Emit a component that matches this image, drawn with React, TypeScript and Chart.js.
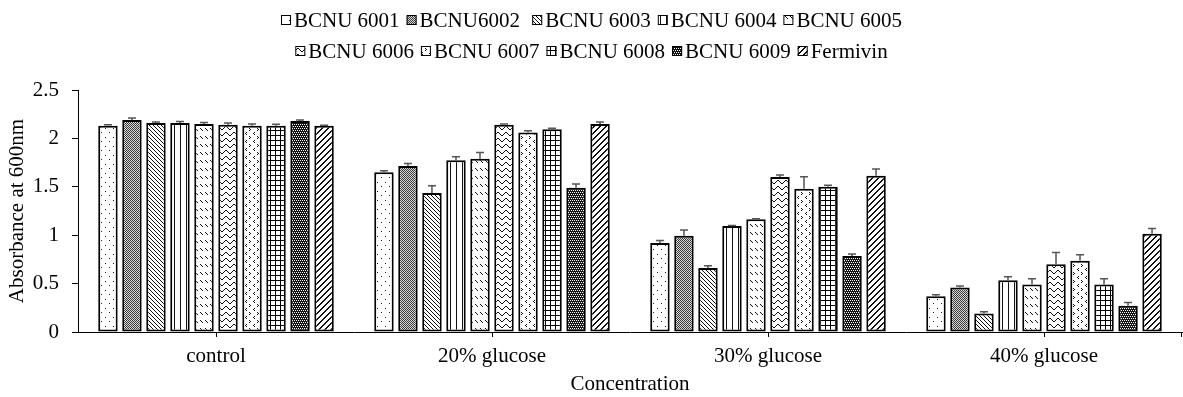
import React, { useEffect, useRef } from 'react';
import { Chart, registerables } from 'chart.js';

Chart.register(...registerables);

// ---------- data ----------
const categories = ['control', '20% glucose', '30% glucose', '40% glucose'];
const seriesNames = [
  'BCNU 6001', 'BCNU6002 ', 'BCNU 6003', 'BCNU 6004', 'BCNU 6005',
  'BCNU 6006', 'BCNU 6007', 'BCNU 6008', 'BCNU 6009', 'Fermivin',
];

const bcnu6001 = [2.13, 1.65, 0.92, 0.37];
const bcnu6002 = [2.19, 1.715, 0.995, 0.46];
const bcnu6003 = [2.16, 1.435, 0.66, 0.19];
const bcnu6004 = [2.16, 1.775, 1.095, 0.535];
const bcnu6005 = [2.15, 1.79, 1.165, 0.49];
const bcnu6006 = [2.14, 2.14, 1.6, 0.7];
const bcnu6007 = [2.13, 2.06, 1.48, 0.735];
const bcnu6008 = [2.13, 2.095, 1.5, 0.49];
const bcnu6009 = [2.18, 1.49, 0.785, 0.27];
const fermivin = [2.13, 2.15, 1.615, 1.015];

const err6001 = [0.01, 0.015, 0.025, 0.015];
const err6002 = [0.02, 0.025, 0.06, 0.015];
const err6003 = [0.01, 0.075, 0.025, 0.02];
const err6004 = [0.015, 0.035, 0.005, 0.035];
const err6005 = [0.015, 0.065, 0.005, 0.06];
const err6006 = [0.02, 0.01, 0.022, 0.12];
const err6007 = [0.02, 0.02, 0.125, 0.062];
const err6008 = [0.015, 0.01, 0.015, 0.06];
const err6009 = [0.01, 0.04, 0.02, 0.035];
const errFermivin = [0.005, 0.02, 0.07, 0.055];

const yMin = 0;
const yMax = 2.5;
const yStep = 0.5;

const seriesValues = [bcnu6001, bcnu6002, bcnu6003, bcnu6004, bcnu6005, bcnu6006, bcnu6007, bcnu6008, bcnu6009, fermivin];
const seriesErrors = [err6001, err6002, err6003, err6004, err6005, err6006, err6007, err6008, err6009, errFermivin];

// ---------- styling ----------
const FONT = "'Liberation Serif', 'Times New Roman', serif";
const FONT_SIZE = 21;

function makeTile(w: number, h: number, bg: string, fg: string, pixels: [number, number][]) {
  const c = document.createElement('canvas');
  c.width = w;
  c.height = h;
  const g = c.getContext('2d')!;
  g.fillStyle = bg;
  g.fillRect(0, 0, w, h);
  g.fillStyle = fg;
  pixels.forEach(([x, y]) => g.fillRect(x, y, 1, 1));
  return c;
}

function buildPatterns(ctx: CanvasRenderingContext2D): CanvasPattern[] {
  const tiles: HTMLCanvasElement[] = [];
  // 1: sparse dots
  tiles.push(makeTile(8, 9, '#fff', '#222', [[1, 2], [5, 6]]));
  // 2: dense fine checker (mid gray)
  tiles.push(makeTile(2, 2, '#d8d8d8', '#3a3a3a', [[0, 0], [1, 1]]));
  // 3: downward diagonal
  tiles.push(makeTile(4, 4, '#fff', '#111', [[0, 0], [1, 1], [2, 2], [3, 3]]));
  // 4: vertical lines
  tiles.push(makeTile(6, 1, '#fff', '#111', [[0, 0]]));
  // 5: dashed downward diagonal
  tiles.push(makeTile(5, 8, '#fff', '#111', [[0, 0], [1, 1], [2, 2]]));
  // 6: wave
  {
    const off = [1, 0, 0, 1, 2, 3, 3, 2];
    const px: [number, number][] = off.map((o, x) => [x, o] as [number, number]);
    tiles.push(makeTile(8, 6, '#fff', '#111', px));
  }
  // 7: divots
  tiles.push(makeTile(8, 8, '#fff', '#111', [[1, 0], [2, 1], [1, 2], [6, 4], [5, 5], [6, 6]]));
  // 8: grid
  {
    const px: [number, number][] = [];
    for (let i = 0; i < 5; i++) { px.push([i, 0]); px.push([0, i]); }
    tiles.push(makeTile(5, 5, '#fff', '#000', px));
  }
  // 9: dark with white dots lattice
  {
    const px: [number, number][] = [];
    const white = new Set(['0,0', '2,0', '1,2', '3,2']);
    for (let x = 0; x < 4; x++) for (let y = 0; y < 4; y++) if (!white.has(`${x},${y}`)) px.push([x, y]);
    tiles.push(makeTile(4, 4, '#fff', '#151515', px));
  }
  // 10: wide upward diagonal
  {
    const px: [number, number][] = [];
    for (let i = 0; i < 6; i++) { px.push([5 - i, i]); px.push([(6 - i) % 6, i]); }
    tiles.push(makeTile(6, 6, '#fff', '#111', px));
  }
  return tiles.map((t) => ctx.createPattern(t, 'repeat')!);
}

export default function App() {
  const canvasRef = useRef<HTMLCanvasElement | null>(null);

  useEffect(() => {
    const canvas = canvasRef.current!;
    const ctx = canvas.getContext('2d')!;
    const patterns = buildPatterns(ctx);

    const errorBarPlugin = {
      id: 'errorBars',
      afterDatasetsDraw(chart: any) {
        const c = chart.ctx;
        const ys = chart.scales.y;
        c.save();
        c.strokeStyle = '#555';
        c.lineWidth = 1.5;
        chart.data.datasets.forEach((ds: any, i: number) => {
          const meta = chart.getDatasetMeta(i);
          meta.data.forEach((bar: any, j: number) => {
            const v = ds.data[j];
            const e = ds.errors[j];
            const yBase = ys.getPixelForValue(v);
            const yTop = ys.getPixelForValue(v + e);
            c.beginPath();
            c.moveTo(bar.x, yBase);
            c.lineTo(bar.x, yTop);
            c.moveTo(bar.x - 4, yTop);
            c.lineTo(bar.x + 4, yTop);
            c.stroke();
          });
        });
        c.restore();
      },
    };

    const legendPlugin = {
      id: 'rowLegend',
      afterDraw(chart: any) {
        const c = chart.ctx;
        c.save();
        c.font = `${FONT_SIZE}px ${FONT}`;
        c.textBaseline = 'alphabetic';
        c.textAlign = 'left';
        const BOX = 10;
        const GAP = 3;
        const SP = 7;
        const rows = [[0, 1, 2, 3, 4], [5, 6, 7, 8, 9]];
        const baselines = [27, 58];
        rows.forEach((row, r) => {
          const widths = row.map((i) => BOX + GAP + c.measureText(seriesNames[i]).width);
          const total = widths.reduce((a, b) => a + b, 0) + SP * (row.length - 1);
          let x = (chart.width - total) / 2;
          const bl = baselines[r];
          row.forEach((i, k) => {
            c.fillStyle = patterns[i];
            c.fillRect(x, bl - 12, BOX, BOX);
            c.strokeStyle = '#000';
            c.lineWidth = 1;
            c.strokeRect(x + 0.5, bl - 11.5, BOX - 1, BOX - 1);
            c.fillStyle = '#000';
            c.fillText(seriesNames[i], x + BOX + GAP, bl);
            x += widths[k] + SP;
          });
        });
        // right-end tick on x axis
        const area = chart.chartArea;
        c.strokeStyle = '#000';
        c.lineWidth = 1;
        c.beginPath();
        c.moveTo(area.right - 0.5, area.bottom);
        c.lineTo(area.right - 0.5, area.bottom + 5);
        c.stroke();
        c.restore();
      },
    };

    const chart = new Chart(canvas, {
      type: 'bar',
      data: {
        labels: categories,
        datasets: seriesNames.map((name, i) => ({
          label: name.trim(),
          data: seriesValues[i],
          errors: seriesErrors[i],
          backgroundColor: patterns[i],
          borderColor: '#000',
          borderWidth: 2,
          borderSkipped: false,
          categoryPercentage: 0.87,
          barPercentage: 0.81,
        })) as any,
      },
      options: {
        animation: false,
        responsive: true,
        maintainAspectRatio: false,
        layout: { padding: { top: 90, right: 1, left: 0, bottom: 0 } },
        plugins: {
          legend: { display: false },
          tooltip: { enabled: false },
        },
        scales: {
          x: {
            ticks: { color: '#000', font: { family: FONT, size: FONT_SIZE }, padding: 7 },
            grid: { drawOnChartArea: false, offset: false, tickLength: 5, color: '#000' },
            border: { display: true, color: '#000', width: 1 },
            title: {
              display: true,
              text: 'Concentration',
              color: '#000',
              font: { family: FONT, size: FONT_SIZE },
              padding: { top: 0, bottom: 0 },
            },
            afterFit: (s: any) => { s.height = 65; },
          },
          y: {
            min: yMin,
            max: yMax,
            ticks: {
              stepSize: yStep,
              color: '#000',
              font: { family: FONT, size: FONT_SIZE },
              padding: 13,
              callback: (v: any) => String(Number(v)),
            },
            grid: { drawOnChartArea: false, tickLength: 6, color: '#000' },
            border: { display: true, color: '#000', width: 1 },
            title: {
              display: true,
              text: 'Absorbance at 600nm',
              color: '#000',
              font: { family: FONT, size: FONT_SIZE },
              padding: { top: 5, bottom: 0 },
            },
            afterFit: (s: any) => { s.width = 78; },
          },
        },
      },
      plugins: [errorBarPlugin, legendPlugin],
    });

    return () => chart.destroy();
  }, []);

  return (
    <div style={{ position: 'fixed', left: 0, top: 0, width: 1183, height: 397, background: '#fff' }}>
      <canvas ref={canvasRef} />
    </div>
  );
}
